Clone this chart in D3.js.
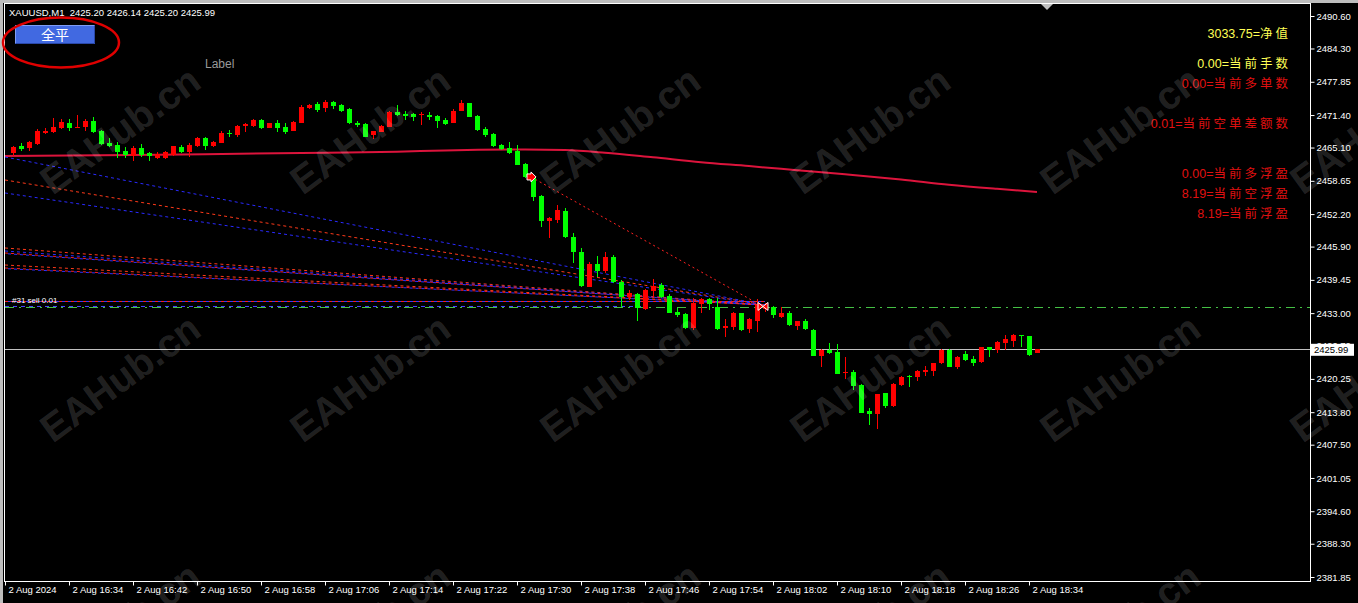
<!DOCTYPE html>
<html><head><meta charset="utf-8">
<script src="https://cdn.jsdelivr.net/npm/d3@7/dist/d3.min.js"></script>
<style>html,body{margin:0;padding:0;background:#000;overflow:hidden}</style>
</head><body>
<svg id="c" width="1358" height="603"></svg>
<script>
// ---------------- DATA ----------------
const headerText = "XAUUSD,M1  2425.20 2426.14 2425.20 2425.99";
const firstBarIndex = 1; // bar index of first candle (index 0 = 16:26)
const open = [2463.98,2465.41,2464.95,2465.79,2467.86,2468.05,2468.83,2469.93,2469.02,2469.15,2470.25,2468.38,2465.92,2465.60,2464.50,2463.47,2465.02,2463.98,2463.14,2463.14,2463.66,2465.28,2464.31,2465.41,2466.89,2465.41,2466.05,2467.99,2467.54,2469.28,2469.28,2470.45,2468.96,2469.80,2469.15,2468.38,2469.93,2472.71,2473.48,2472.71,2474.00,2473.35,2472.58,2469.80,2469.67,2467.47,2468.18,2469.15,2472.00,2471.61,2471.61,2471.35,2471.35,2471.22,2470.45,2469.93,2472.25,2473.67,2471.22,2468.64,2467.73,2465.60,2464.95,2464.50,2461.91,2459.33,2455.71,2450.93,2451.06,2452.86,2447.83,2444.92,2438.13,2442.53,2441.23,2443.95,2439.10,2436.07,2436.71,2433.74,2437.36,2438.46,2436.32,2433.29,2432.77,2430.06,2434.77,2435.68,2434.26,2430.06,2430.38,2432.96,2429.86,2431.54,2433.80,2434.26,2432.32,2433.10,2430.51,2431.48,2429.74,2424.70,2425.86,2425.54,2421.34,2421.66,2419.08,2414.10,2413.45,2417.46,2415.01,2419.08,2420.82,2420.56,2421.66,2421.85,2423.41,2425.86,2422.63,2425.08,2424.05,2423.60,2426.38,2425.86,2427.15,2427.67,2428.77,2428.57,2425.20];
const high = [2465.41,2466.05,2466.44,2468.64,2468.83,2470.83,2470.57,2470.57,2471.48,2470.57,2470.96,2468.51,2466.89,2466.12,2465.28,2465.41,2465.79,2464.31,2464.24,2464.50,2465.45,2465.53,2465.92,2467.09,2467.09,2466.44,2468.38,2468.51,2469.54,2469.93,2470.57,2470.70,2469.80,2470.45,2469.80,2470.32,2473.29,2473.55,2474.00,2474.32,2474.19,2473.55,2472.71,2470.32,2469.80,2468.38,2469.41,2472.13,2473.35,2472.25,2471.86,2472.00,2472.00,2471.41,2470.83,2472.51,2474.32,2473.80,2471.35,2469.02,2467.86,2465.79,2466.18,2465.60,2462.17,2459.46,2455.90,2451.57,2453.96,2453.32,2448.60,2445.56,2442.98,2444.08,2444.79,2444.27,2439.43,2437.49,2436.84,2437.62,2439.55,2438.78,2436.71,2433.93,2433.09,2435.87,2435.87,2435.87,2435.87,2431.80,2433.29,2433.09,2432.00,2435.68,2435.00,2434.39,2434.26,2433.36,2431.55,2431.80,2429.87,2425.99,2427.28,2427.02,2424.57,2421.98,2419.27,2414.55,2417.40,2417.59,2419.40,2420.82,2421.01,2421.98,2422.76,2423.41,2425.99,2425.99,2424.70,2425.73,2424.70,2426.51,2426.51,2427.55,2428.77,2428.96,2428.85,2428.65,2426.14];
const low = [2463.47,2464.44,2464.44,2465.60,2467.73,2467.86,2468.64,2468.38,2469.02,2468.38,2467.86,2465.60,2465.15,2463.14,2463.01,2462.56,2463.34,2462.56,2462.82,2462.95,2463.47,2463.98,2463.34,2465.28,2464.63,2465.15,2465.92,2467.09,2467.21,2468.18,2469.15,2468.77,2468.96,2468.12,2467.73,2468.25,2469.80,2472.58,2472.06,2472.00,2472.51,2472.06,2469.67,2469.15,2467.09,2466.83,2468.05,2469.02,2471.22,2470.45,2470.32,2469.41,2470.45,2468.89,2469.41,2469.80,2472.13,2470.96,2468.38,2467.21,2465.15,2464.63,2463.85,2461.66,2459.14,2454.81,2449.76,2447.50,2450.41,2447.50,2442.66,2438.00,2438.00,2440.07,2440.72,2438.91,2434.26,2435.55,2431.54,2433.61,2436.20,2435.87,2432.96,2432.19,2429.86,2429.74,2432.96,2433.61,2429.74,2428.31,2429.74,2429.61,2429.09,2429.41,2433.30,2432.00,2432.00,2430.51,2429.74,2429.80,2424.60,2422.50,2425.08,2421.15,2420.17,2418.11,2413.65,2411.32,2410.48,2414.55,2414.75,2418.88,2418.75,2419.92,2420.82,2420.82,2423.15,2422.50,2422.11,2423.79,2422.76,2423.28,2424.57,2425.34,2425.86,2426.38,2426.51,2424.70,2425.20];
const close = [2465.15,2464.89,2466.25,2468.38,2468.38,2469.02,2469.99,2468.83,2469.15,2470.32,2468.12,2465.73,2465.41,2464.18,2463.66,2465.02,2463.66,2463.47,2463.79,2464.18,2465.41,2464.31,2465.60,2466.89,2465.41,2466.25,2467.99,2467.73,2469.28,2469.67,2470.45,2468.96,2469.80,2468.83,2468.18,2470.06,2473.03,2473.35,2472.38,2474.00,2473.16,2472.25,2469.80,2469.54,2467.21,2468.25,2469.28,2472.00,2471.41,2471.22,2470.96,2471.61,2471.09,2470.32,2469.67,2472.25,2473.80,2471.09,2468.51,2467.54,2465.41,2464.76,2464.11,2461.72,2459.33,2455.45,2450.93,2451.38,2452.99,2447.70,2444.92,2438.26,2442.53,2441.23,2443.95,2439.10,2436.20,2436.84,2433.93,2437.49,2438.26,2436.20,2433.09,2432.64,2430.06,2434.90,2435.68,2434.77,2429.86,2430.51,2433.09,2429.74,2431.80,2434.58,2434.50,2432.64,2433.10,2430.71,2431.48,2429.87,2424.70,2425.86,2425.21,2421.21,2421.66,2418.88,2413.71,2413.45,2417.33,2415.01,2419.27,2420.56,2420.56,2421.79,2421.98,2423.28,2425.86,2422.63,2424.57,2423.92,2423.41,2426.38,2425.86,2427.48,2427.93,2428.77,2428.57,2424.89,2425.99];

// moving average readings (bar index, value)
const maIndex = [0,12,25,40,49,55,65,70,75,81,87,93,99,105,112,118,124,129];
const maValue = [2463.46,2463.60,2463.80,2464.10,2464.30,2464.55,2464.72,2464.62,2464.10,2463.20,2462.25,2461.50,2460.70,2459.90,2458.90,2457.90,2457.10,2456.50];

const priceTicks = [2490.60,2484.30,2477.85,2471.40,2465.10,2458.65,2452.20,2445.90,2439.45,2433.00,2426.70,2420.25,2413.80,2407.50,2401.05,2394.60,2388.30,2381.85];
const timeTickIndex = [0,8,16,24,32,40,48,56,64,72,80,88,96,104,112,120,128];
const timeTickLabels = ["2 Aug 2024","2 Aug 16:34","2 Aug 16:42","2 Aug 16:50","2 Aug 16:58","2 Aug 17:06","2 Aug 17:14","2 Aug 17:22","2 Aug 17:30","2 Aug 17:38","2 Aug 17:46","2 Aug 17:54","2 Aug 18:02","2 Aug 18:10","2 Aug 18:18","2 Aug 18:26","2 Aug 18:34"];

const currentPrice = 2425.99;
const levelPrice = 2434.19;      // green dash-dot level
const orderPrice = 2435.26;      // "#31 sell 0.01" order line
const orderLabel = "#31 sell 0.01";
// history trade lines: start at bar 0, converge at bar 95
const histStartPrice = [2463.27,2458.81,2456.29,2445.63,2445.05,2444.66,2442.33,2441.75];
const histKind = ["buy","sell","buy","sell","buy","both","sell","both"];
const histEndIndex = 95, histEndPrice = 2434.58;
const tradeOpen = {i:65.75, p:2459.4}, tradeClose = {i:94.75, p:2434.3};

const infoValues = ["3033.75","0.00","0.00","0.01","0.00","8.19","8.19"];
const infoLabels = ["净值","当前手数","当前多单数","当前空单差额数","当前多浮盈","当前空浮盈","当前浮盈"];
const buttonText = "全平";
const labelText = "Label";
const watermark = "EAHub.cn";

// ---------------- LAYOUT ----------------
const W = 1358, H = 603;
const L = 5, R = 1310, T = 4, B = 581;
const svg = d3.select("#c");
const x = d3.scaleLinear().domain([0,129]).range([5,1037]);
const y = d3.scaleLinear().domain([2381.85,2490.60]).range([577,16]);
const FONT = "Liberation Sans, Arial, sans-serif";

svg.append("rect").attr("width",W).attr("height",H).attr("fill","#000");
// window edge
svg.append("rect").attr("x",0).attr("y",0).attr("width",W).attr("height",3).attr("fill","#bdbdbd");
svg.append("rect").attr("x",0).attr("y",0).attr("width",3).attr("height",H).attr("fill","#bdbdbd");

svg.append("defs").append("clipPath").attr("id","plot").append("rect")
  .attr("x",L).attr("y",T).attr("width",R-L).attr("height",B-T);
const plot = svg.append("g").attr("clip-path","url(#plot)");

// current price line
plot.append("line").attr("x1",L).attr("x2",R).attr("y1",Math.round(y(currentPrice))+0.5).attr("y2",Math.round(y(currentPrice))+0.5)
  .attr("stroke","#c0c0c0").attr("stroke-width",1);

// MA
plot.append("path").datum(maIndex.map((d,k)=>[d,maValue[k]]))
  .attr("d",d3.line().x(d=>x(d[0])).y(d=>y(d[1])).curve(d3.curveMonotoneX))
  .attr("fill","none").attr("stroke","#dc143c").attr("stroke-width",2);

// history lines
const lineG = plot.append("g");
function seg(i0,p0,i1,p1,color,dash,off){
  lineG.append("line").attr("x1",x(i0)).attr("y1",y(p0)).attr("x2",x(i1)).attr("y2",y(p1))
    .attr("stroke",color).attr("stroke-width",1).attr("stroke-dasharray",dash).attr("stroke-dashoffset",off||0);
}
histStartPrice.forEach((p,k)=>{
  const kind = histKind[k];
  if(kind==="buy") seg(0,p,histEndIndex,histEndPrice,"#2a2aff","3,3");
  else if(kind==="sell") seg(0,p,histEndIndex,histEndPrice,"#ff3a1a","3,3");
  else { seg(0,p,histEndIndex,histEndPrice,"#ff2020","3,3",0); seg(0,p-0.12,histEndIndex,histEndPrice,"#3030ff","3,3",3); }
});
// order line (purple = red+blue)
seg(0,orderPrice,histEndIndex,orderPrice,"#ff2020","3,3",0);
seg(0,orderPrice,histEndIndex,orderPrice,"#3a3aff","3,3",3);
seg(0,levelPrice+0.1,80,levelPrice+0.1,"#4a4aff","4,4",0);
// green dash-dot level
plot.append("line").attr("x1",L).attr("x2",R).attr("y1",Math.round(y(levelPrice))+0.5).attr("y2",Math.round(y(levelPrice))+0.5)
  .attr("stroke","#44c044").attr("stroke-width",1).attr("stroke-dasharray","9,5,2,5");
// trade line
seg(tradeOpen.i,tradeOpen.p,tradeClose.i,tradeClose.p,"#ff2020","2,3");

// candles
const bars = open.map((o,k)=>({i:k+firstBarIndex,o,h:high[k],l:low[k],c:close[k]}));
const cg = plot.append("g");
bars.forEach(b=>{
  const up = b.c >= b.o;
  const col = up ? "#ff0000" : "#00ff00";
  const cx = Math.round(x(b.i));
  cg.append("rect").attr("x",cx).attr("width",1)
    .attr("y",Math.round(y(b.h))).attr("height",Math.max(1,Math.round(y(b.l))-Math.round(y(b.h))))
    .attr("fill",col);
  const top = Math.round(y(Math.max(b.o,b.c))), bot = Math.round(y(Math.min(b.o,b.c)));
  cg.append("rect").attr("x",cx-2).attr("width",5).attr("y",top).attr("height",Math.max(1,bot-top)).attr("fill",col);
});

// trade markers
const ox = x(tradeOpen.i), oy = y(tradeOpen.p);
plot.append("path").attr("d",`M${ox-4},${oy-3}L${ox},${oy-3}L${ox},${oy-5}L${ox+5},${oy}L${ox},${oy+5}L${ox},${oy+3}L${ox-4},${oy+3}Z`)
  .attr("fill","#ff0000").attr("stroke","#fff").attr("stroke-width",1);
const qx = x(tradeClose.i), qy = y(tradeClose.p);
plot.append("path").attr("d",`M${qx-5},${qy-4}L${qx+5},${qy+4}L${qx+5},${qy-4}L${qx-5},${qy+4}Z`)
  .attr("fill","#ff0000").attr("stroke","#fff").attr("stroke-width",1);

// order label
svg.append("text").attr("x",12).attr("y",y(orderPrice)+2).attr("fill","#fff").attr("font-family",FONT).attr("font-size",8).text(orderLabel);

// frame
svg.append("rect").attr("x",L-0.5).attr("y",T-0.5).attr("width",R-L+1).attr("height",B-T+1)
  .attr("fill","none").attr("stroke","#fff").attr("stroke-width",1);

// y axis
const ya = svg.append("g").attr("transform",`translate(${R+0.5},0)`)
  .call(d3.axisRight(y).tickValues(priceTicks).tickFormat(d3.format(".2f")).tickSize(4).tickPadding(2));
ya.select(".domain").remove();
ya.selectAll("line").attr("stroke","#fff");
ya.selectAll("text").attr("fill","#fff").attr("font-family",FONT).attr("font-size",9.5);

// x axis
const xa = svg.append("g").attr("transform",`translate(0,${B+0.5})`)
  .call(d3.axisBottom(x).tickValues(timeTickIndex).tickFormat((d,k)=>timeTickLabels[k]).tickSize(4).tickPadding(3));
xa.select(".domain").remove();
xa.selectAll("line").attr("stroke","#fff");
xa.selectAll("text").attr("fill","#fff").attr("font-family",FONT).attr("font-size",9.5)
  .attr("text-anchor","start").attr("dx",3).attr("y",5);

// current price box
const cpy = y(currentPrice);
svg.append("rect").attr("x",R+1).attr("y",cpy-5.5).attr("width",43).attr("height",12).attr("fill","#fff");
svg.append("text").attr("x",R+4).attr("y",cpy+4).attr("fill","#000").attr("font-family",FONT).attr("font-size",9.5)
  .text(d3.format(".2f")(currentPrice));

// chart shift marker
svg.append("path").attr("d","M1041,4L1053,4L1047,10Z").attr("fill","#c0c0c0");

// header
svg.append("text").attr("x",9).attr("y",16).attr("fill","#fff").attr("font-family",FONT).attr("font-size",9.5)
  .attr("xml:space","preserve").style("white-space","pre").text(headerText);

// button
svg.append("rect").attr("x",15).attr("y",25).attr("width",80).attr("height",19).attr("fill","#4169e1");
svg.append("path").attr("d","M15.5,43.5L15.5,25.5L94.5,25.5").attr("stroke","#7f9cf5").attr("fill","none");
svg.append("path").attr("d","M15.5,43.5L94.5,43.5L94.5,25.5").attr("stroke","#2a48a8").attr("fill","none");
svg.append("text").attr("x",55).attr("y",40).attr("text-anchor","middle").attr("fill","#fff")
  .attr("font-family","Noto Sans CJK SC").attr("font-size",14).text(buttonText);
svg.append("ellipse").attr("cx",61).attr("cy",42.5).attr("rx",58).attr("ry",25)
  .attr("fill","none").attr("stroke","#e00000").attr("stroke-width",2.5);
svg.append("text").attr("x",205).attr("y",68).attr("fill","#9a9a9a").attr("font-family",FONT).attr("font-size",12).text(labelText);

// info panel
const infoRowY = [38,68,88,128,178,198,218];
const infoColor = ["#ffff55","#ffff55","#e01010","#e01010","#e01010","#e01010","#e01010"];
infoValues.forEach((v,k)=>{
  const t = svg.append("text").attr("x",1291).attr("y",infoRowY[k]).attr("text-anchor","end")
    .attr("fill",infoColor[k]).attr("font-size",12.5);
  t.append("tspan").attr("font-family",FONT).text(v+"=");
  t.append("tspan").attr("font-family","Noto Sans CJK SC").attr("letter-spacing",3).text(infoLabels[k]);
});

// watermark
const wm = svg.append("g").attr("pointer-events","none");
[130,378,626].forEach(cy=>{
  [120,370,620,870,1120,1370].forEach(cx=>{
    wm.append("text").attr("transform",`translate(${cx},${cy}) rotate(-36)`).attr("text-anchor","middle").attr("dy","0.35em")
      .attr("font-family","Liberation Sans").attr("font-weight","bold").attr("font-size",39)
      .attr("fill","#fff").attr("fill-opacity",0.15).text(watermark);
  });
});
</script>
</body></html>
